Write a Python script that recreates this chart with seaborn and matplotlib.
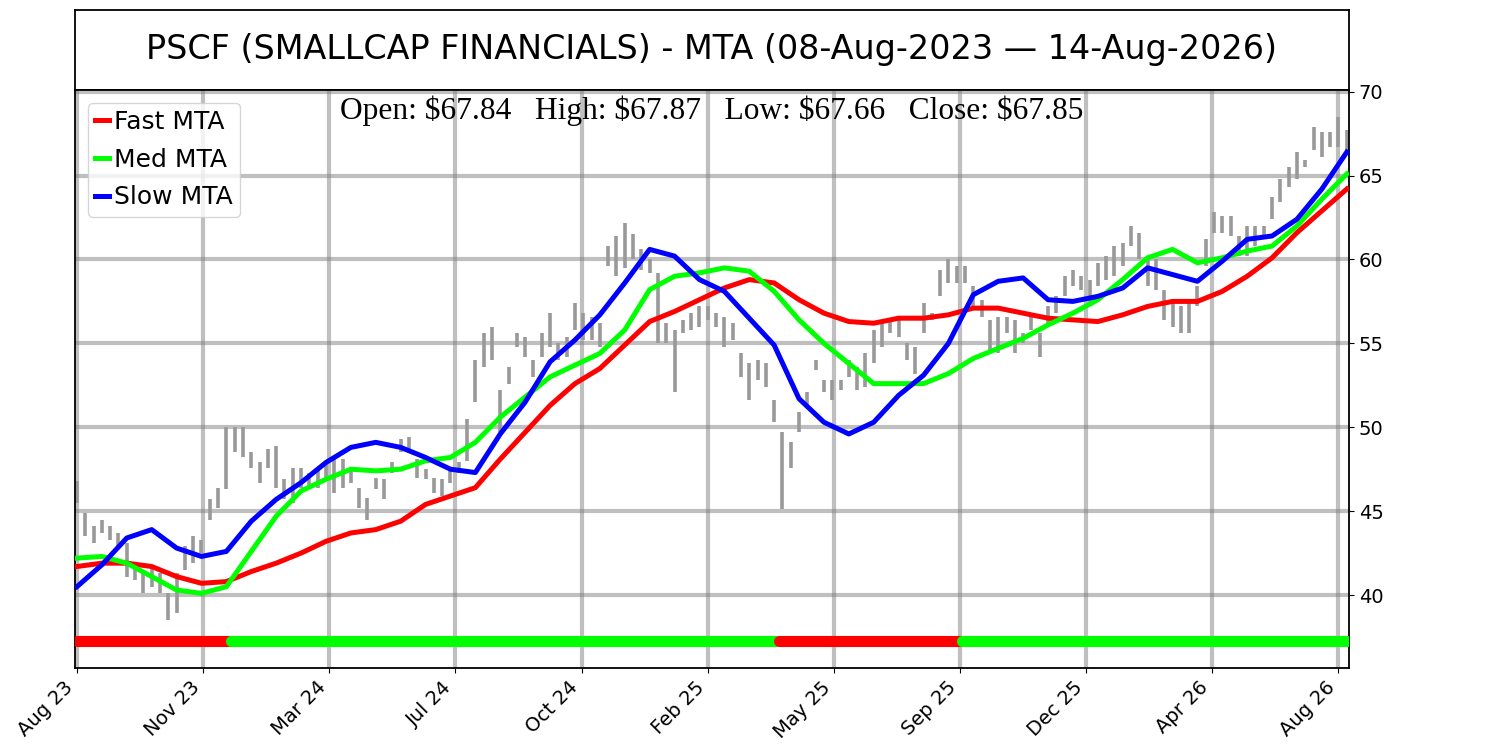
import matplotlib
matplotlib.use('Agg')
import pandas as pd
import seaborn as sns
import matplotlib.pyplot as plt

# Chart text
title = 'PSCF (SMALLCAP FINANCIALS) - MTA (08-Aug-2023 \u2014 14-Aug-2026)'
ohlc_text = 'Open: $67.84   High: $67.87   Low: $67.66   Close: $67.85'

# x axis: trading-day index, a label every 76 bars
tick_pos = [0, 76, 152, 228, 304, 380, 456, 532, 608, 684, 760]
tick_labels = ['Aug 23', 'Nov 23', 'Mar 24', 'Jul 24', 'Oct 24', 'Feb 25',
               'May 25', 'Sep 25', 'Dec 25', 'Apr 26', 'Aug 26']
y_ticks = [40, 45, 50, 55, 60, 65, 70]

# MTA lines, read every 15 bars
mta_idx = list(range(0, 766, 15))
fast_mta = [41.7, 41.9, 41.9, 41.7, 41.1, 40.7, 40.8, 41.4, 41.9, 42.5, 43.2, 43.7, 43.9,
            44.4, 45.4, 45.9, 46.4, 48.1, 49.7, 51.3, 52.6, 53.5, 54.9, 56.3, 56.9, 57.6,
            58.3, 58.8, 58.6, 57.6, 56.8, 56.3, 56.2, 56.5, 56.5, 56.7, 57.1, 57.1, 56.8,
            56.5, 56.4, 56.3, 56.7, 57.2, 57.5, 57.5, 58.1, 59.0, 60.1, 61.6, 62.9, 64.2]
med_mta = [42.2, 42.3, 41.9, 41.1, 40.3, 40.1, 40.5, 42.6, 44.7, 46.2, 46.9, 47.5, 47.4,
           47.5, 48.0, 48.2, 49.1, 50.6, 51.8, 53.0, 53.7, 54.4, 55.8, 58.2, 59.0, 59.2,
           59.5, 59.3, 58.1, 56.4, 55.0, 53.8, 52.6, 52.6, 52.6, 53.2, 54.1, 54.7, 55.3,
           56.1, 56.8, 57.6, 58.8, 60.1, 60.6, 59.8, 60.1, 60.5, 60.8, 62.0, 63.6, 65.1]
slow_mta = [40.5, 41.8, 43.4, 43.9, 42.8, 42.3, 42.6, 44.4, 45.7, 46.7, 47.9, 48.8, 49.1,
            48.8, 48.2, 47.5, 47.3, 49.6, 51.5, 53.9, 55.2, 56.7, 58.6, 60.6, 60.2, 58.8,
            58.1, 56.5, 54.9, 51.7, 50.3, 49.6, 50.3, 51.9, 53.1, 55.0, 57.9, 58.7, 58.9,
            57.6, 57.5, 57.8, 58.3, 59.5, 59.1, 58.7, 59.9, 61.2, 61.4, 62.4, 64.2, 66.4]

# price bars (high / low), read every 5 bars
price_idx = list(range(0, 766, 5))
price_high = [46.8, 44.9, 44.1, 44.5, 44.1, 43.7, 43.1, 41.7, 41.3, 41.7, 41.3, 40.1, 41.3,
              42.9, 43.5, 43.3, 45.7, 46.4, 50.0, 50.0, 50.0, 48.5, 47.9, 48.7, 48.9, 46.9,
              47.6, 47.6, 47.3, 47.5, 47.9, 48.1, 48.1, 47.5, 46.4, 45.8, 47.0, 46.9, 47.9,
              49.3, 49.4, 48.1, 47.5, 47.0, 46.9, 47.6, 47.9, 50.5, 54.0, 55.6, 56.0, 52.2,
              53.6, 55.6, 55.4, 54.0, 55.6, 56.8, 55.0, 55.4, 57.4, 56.8, 56.6, 56.2, 60.8,
              61.4, 62.2, 61.5, 60.6, 60.0, 59.2, 56.2, 55.8, 56.4, 56.8, 57.2, 57.2, 56.8,
              56.6, 56.2, 54.4, 53.8, 54.0, 53.8, 51.6, 49.7, 49.1, 50.9, 52.1, 54.0, 52.8,
              52.8, 52.8, 54.0, 53.6, 54.4, 55.8, 56.2, 56.4, 56.4, 55.0, 54.8, 57.4, 56.8,
              59.4, 60.0, 59.6, 59.6, 58.4, 57.6, 56.4, 56.6, 56.6, 56.4, 55.6, 56.6, 55.6,
              57.2, 57.8, 59.0, 59.4, 59.0, 58.8, 59.8, 60.2, 60.8, 61.0, 62.0, 61.6, 60.0,
              60.0, 58.2, 57.6, 57.2, 57.6, 58.4, 61.2, 62.8, 62.6, 62.6, 61.4, 62.0, 62.0,
              62.0, 63.7, 64.8, 65.5, 66.4, 65.9, 67.9, 67.6, 67.6, 68.5, 67.7]
price_low = [45.5, 43.5, 43.1, 43.7, 43.3, 42.9, 41.1, 40.9, 40.1, 40.5, 40.1, 38.5, 38.9,
             41.5, 41.9, 42.5, 44.5, 45.2, 46.3, 48.5, 48.2, 47.6, 46.7, 47.6, 46.4, 45.7,
             45.5, 46.4, 46.4, 46.4, 46.9, 46.1, 46.4, 46.7, 45.2, 44.5, 46.3, 45.7, 47.3,
             48.5, 48.7, 47.0, 46.9, 46.1, 45.9, 46.7, 47.3, 48.0, 51.5, 53.6, 54.0, 49.7,
             52.6, 54.8, 54.2, 53.0, 54.2, 54.8, 54.0, 54.2, 55.8, 55.2, 55.2, 54.8, 59.6,
             59.0, 59.5, 60.0, 59.4, 59.2, 55.0, 55.0, 52.1, 55.6, 55.8, 56.0, 56.4, 56.0,
             54.8, 55.2, 53.0, 51.6, 52.8, 52.4, 50.3, 45.1, 47.6, 49.7, 51.2, 53.4, 52.1,
             51.6, 52.2, 53.0, 52.2, 52.4, 53.8, 54.8, 55.6, 55.4, 54.0, 53.2, 55.6, 56.4,
             57.8, 58.6, 58.6, 58.6, 57.2, 56.6, 54.4, 54.4, 55.6, 54.4, 55.0, 55.8, 54.2,
             56.2, 56.8, 57.8, 58.4, 58.2, 57.2, 58.4, 58.8, 59.0, 59.6, 60.8, 60.0, 58.4,
             58.2, 56.4, 56.0, 55.6, 55.6, 57.2, 59.6, 61.6, 61.6, 61.4, 60.2, 60.2, 60.8,
             61.2, 62.4, 63.4, 64.3, 64.8, 65.5, 66.5, 66.1, 66.7, 66.7, 66.5]

# trend signal strip along the bottom
signal_level = 37.25
signal_breaks = [0, 93, 423, 533, 765]
signal_state = ['down', 'up', 'down', 'up']
state_colors = {'down': '#ff0000', 'up': '#00ff00'}

mta = pd.DataFrame({'bar': mta_idx, 'fast': fast_mta, 'med': med_mta, 'slow': slow_mta})
prices = pd.DataFrame({'bar': price_idx, 'high': price_high, 'low': price_low})

fig = plt.figure(figsize=(15, 7.5), dpi=100)

# title box above the chart
ax_t = fig.add_axes([0.05, 0.88, 0.8493, 0.1067])
ax_t.set_xticks([])
ax_t.set_yticks([])
for side in ax_t.spines.values():
    side.set_linewidth(1.3)
ax_t.text(0.5, 0.5, title, ha='center', va='center', fontsize=24)

ax = fig.add_axes([0.05, 0.1093, 0.8493, 0.7707])

# price bars
ax.vlines(prices['bar'], prices['low'], prices['high'], color='#999999', linewidth=2.6, zorder=2)

# MTA lines
sns.lineplot(data=mta, x='bar', y='fast', color='#ff0000', linewidth=3.6, label='Fast MTA', ax=ax, zorder=3)
sns.lineplot(data=mta, x='bar', y='med', color='#00ff00', linewidth=3.6, label='Med MTA', ax=ax, zorder=3)
sns.lineplot(data=mta, x='bar', y='slow', color='#0000ff', linewidth=3.6, label='Slow MTA', ax=ax, zorder=3)

# signal strip
for k, state in enumerate(signal_state):
    ax.plot([signal_breaks[k], signal_breaks[k + 1]], [signal_level, signal_level],
            color=state_colors[state], linewidth=8, solid_capstyle='round', zorder=4)

ax.set_xlim(-1.2, 766.3)
ax.set_ylim(35.65, 70.1)
ax.set_xticks(tick_pos)
ax.set_xticklabels(tick_labels, rotation=45, ha='right', fontsize=14)
ax.set_yticks(y_ticks)
ax.yaxis.tick_right()
ax.tick_params(axis='y', labelsize=14)
ax.set_xlabel('')
ax.set_ylabel('')
ax.grid(True, color='gray', alpha=0.5, linewidth=3)
ax.set_axisbelow(True)
for side in ax.spines.values():
    side.set_linewidth(1.3)

ax.text(0.5, 0.99, ohlc_text, transform=ax.transAxes, ha='center', va='top',
        family='Liberation Serif', fontsize=22.6, parse_math=False)

ax.legend(loc='upper left', fontsize=18, handlelength=0.55, handletextpad=0.2,
          labelspacing=0.55, borderpad=0.3)

fig.savefig('out.png', dpi=100)
